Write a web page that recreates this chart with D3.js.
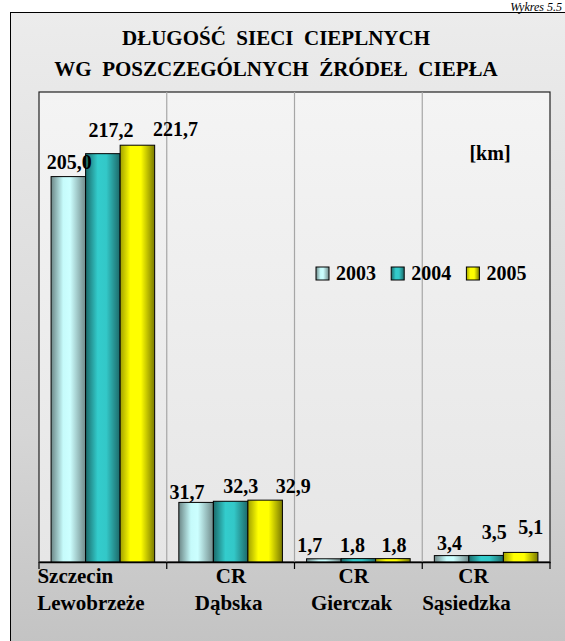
<!DOCTYPE html>
<html>
<head>
<meta charset="utf-8">
<script src="https://cdn.jsdelivr.net/npm/d3@7"></script>
<style>
  body { margin: 0; background: #fff; }
  svg { display: block; font-family: "Liberation Serif", "Times New Roman", serif; }
</style>
</head>
<body>
<script>
// chart values
var categories = ['Szczecin Lewobrzeże', 'CR Dąbska', 'CR Gierczak', 'CR Sąsiedzka'];
var categoryLines = [['Szczecin', 'Lewobrzeże'], ['CR', 'Dąbska'], ['CR', 'Gierczak'], ['CR', 'Sąsiedzka']];
var series = ['2003', '2004', '2005'];
var values2003 = [205.0, 31.7, 1.7, 3.4];
var values2004 = [217.2, 32.3, 1.8, 3.5];
var values2005 = [221.7, 32.9, 1.8, 5.1];
var titleLines = ['DŁUGOŚĆ  SIECI  CIEPLNYCH', 'WG  POSZCZEGÓLNYCH  ŹRÓDEŁ  CIEPŁA'];

// label nudges, as the labels were moved by hand in the original
var labelNudge = [
    [[1, -8], [8, -17], [38, -9]],
    [[-9, -3], [10, -8], [28, -7]],
    [[-14, -7], [-6, -7], [1, -7]],
    [[-2, -6], [8, -16], [10, -18]]
];
var catLabelDx = [[-27.6, -12], [0.4, -2], [-4.6, -6.8], [-12.6, -19.6]];

var W = 565, H = 641;
var plot = {left: 39, right: 550, top: 92, bottom: 562};

var svg = d3.select('body').append('svg')
    .attr('width', W)
    .attr('height', H);

var defs = svg.append('defs');

function hGradient(id, stops) {
    var g = defs.append('linearGradient')
        .attr('id', id)
        .attr('x1', 0).attr('y1', 0).attr('x2', 1).attr('y2', 0);
    stops.forEach(function(s) {
        g.append('stop').attr('offset', s[0]).attr('stop-color', s[1]);
    });
}
function vGradient(id, stops) {
    var g = defs.append('linearGradient')
        .attr('id', id)
        .attr('x1', 0).attr('y1', 0).attr('x2', 0).attr('y2', 1);
    stops.forEach(function(s) {
        g.append('stop').attr('offset', s[0]).attr('stop-color', s[1]);
    });
}

hGradient('g2003', [[0, '#6c8686'], [0.35, '#c6fbfb'], [0.55, '#ccffff'], [1, '#708a8a']]);
hGradient('g2004', [[0, '#1b6a6a'], [0.35, '#33cccc'], [0.6, '#33c8c8'], [1, '#1d6868']]);
hGradient('g2005', [[0, '#a0a000'], [0.3, '#ffff00'], [0.6, '#ffff00'], [1, '#7a7a00']]);
vGradient('gFrame', [[0, '#ececec'], [0.6, '#d6d6d6'], [0.92, '#c2c2c2'], [1, '#c8c8c8']]);
vGradient('gPlot', [[0, '#f4f4f4'], [1, '#e6e6e6']]);

// outer frame
svg.append('rect')
    .attr('x', 10.5)
    .attr('y', 12.5)
    .attr('width', 600)
    .attr('height', 700)
    .attr('fill', 'url(#gFrame)')
    .attr('stroke', '#000')
    .attr('stroke-width', 1);

// "Wykres 5.5" above the frame
svg.append('text')
    .attr('x', 562)
    .attr('y', 11)
    .attr('text-anchor', 'end')
    .attr('font-size', 12)
    .attr('font-style', 'italic')
    .text('Wykres 5.5');

// title
svg.append('g').selectAll('text')
    .data(titleLines)
    .enter().append('text')
        .attr('x', 276)
        .attr('y', function(d, i) { return 45 + i*31; })
        .attr('text-anchor', 'middle')
        .attr('font-size', 21)
        .attr('font-weight', 'bold')
        .style('white-space', 'pre')
        .text(function(d) { return d; });

// scales
var x = d3.scaleBand()
    .domain(categories)
    .range([plot.left, plot.right]);
var x1 = d3.scaleBand()
    .domain(series)
    .range([0, x.bandwidth()])
    .paddingOuter(0.35);
var y = d3.scaleLinear()
    .domain([0, 250])
    .range([plot.bottom, plot.top]);

// plot area
svg.append('rect')
    .attr('x', plot.left)
    .attr('y', plot.top)
    .attr('width', plot.right - plot.left)
    .attr('height', plot.bottom - plot.top)
    .attr('fill', 'url(#gPlot)')
    .attr('stroke', '#222')
    .attr('stroke-width', 1.2);

// category dividers
svg.append('g').selectAll('line')
    .data(categories.slice(1))
    .enter().append('line')
        .attr('x1', function(d) { return x(d); })
        .attr('x2', function(d) { return x(d); })
        .attr('y1', plot.top)
        .attr('y2', plot.bottom)
        .attr('stroke', '#a6a6a6')
        .attr('stroke-width', 1.2);

// bars
var seriesValues = [values2003, values2004, values2005];
var rows = [];
categories.forEach(function(c, ci) {
    series.forEach(function(s, si) {
        rows.push({cat: c, ci: ci, s: s, si: si, v: seriesValues[si][ci]});
    });
});

svg.append('g').selectAll('rect')
    .data(rows)
    .enter().append('rect')
        .attr('x', function(d) { return x(d.cat) + x1(d.s); })
        .attr('y', function(d) { return y(d.v); })
        .attr('width', x1.bandwidth())
        .attr('height', function(d) { return y(0) - y(d.v); })
        .attr('fill', function(d) { return 'url(#g' + d.s + ')'; })
        .attr('stroke', '#000')
        .attr('stroke-width', 1);

// value labels
var fmt = function(v) { return d3.format('.1f')(v).replace('.', ','); };
svg.append('g').selectAll('text')
    .data(rows)
    .enter().append('text')
        .attr('x', function(d) { return x(d.cat) + x1(d.s) + x1.bandwidth()/2 + labelNudge[d.ci][d.si][0]; })
        .attr('y', function(d) { return y(d.v) + labelNudge[d.ci][d.si][1]; })
        .attr('text-anchor', 'middle')
        .attr('font-size', 20)
        .attr('font-weight', 'bold')
        .text(function(d) { return fmt(d.v); });

// bottom axis
var axis = svg.append('g')
    .attr('transform', 'translate(0,' + plot.bottom + ')')
    .call(d3.axisBottom(x).tickSize(0).tickFormat(''));
axis.select('.domain').attr('stroke', '#000').attr('stroke-width', 1.5);

axis.selectAll('.boundary')
    .data(categories.concat(['end']))
    .enter().append('line')
        .attr('class', 'boundary')
        .attr('x1', function(d) { return d == 'end' ? plot.right : x(d); })
        .attr('x2', function(d) { return d == 'end' ? plot.right : x(d); })
        .attr('y1', 0)
        .attr('y2', 7)
        .attr('stroke', '#000')
        .attr('stroke-width', 1.2);

// category labels
var catG = svg.append('g').selectAll('g')
    .data(categories)
    .enter().append('g');
catG.each(function(c, ci) {
    d3.select(this).selectAll('text')
        .data(categoryLines[ci])
        .enter().append('text')
            .attr('x', function(d, li) { return x(c) + x.bandwidth()/2 + catLabelDx[ci][li]; })
            .attr('y', function(d, li) { return 583 + li*27; })
            .attr('text-anchor', 'middle')
            .attr('font-size', 21)
            .attr('font-weight', 'bold')
            .text(function(d) { return d; });
});

// unit
svg.append('text')
    .attr('x', 490)
    .attr('y', 160)
    .attr('text-anchor', 'middle')
    .attr('font-size', 20)
    .attr('font-weight', 'bold')
    .text('[km]');

// legend
var legend = svg.append('g')
    .attr('transform', 'translate(316,267)');
var item = legend.selectAll('g')
    .data(series)
    .enter().append('g')
        .attr('transform', function(d, i) { return 'translate(' + (i*75.2) + ',0)'; });
item.append('rect')
    .attr('width', 13)
    .attr('height', 13)
    .attr('fill', function(d) { return 'url(#g' + d + ')'; })
    .attr('stroke', '#000')
    .attr('stroke-width', 1);
item.append('text')
    .attr('x', 20)
    .attr('y', 12.5)
    .attr('font-size', 20)
    .attr('font-weight', 'bold')
    .text(function(d) { return d; });
</script>
</body>
</html>
